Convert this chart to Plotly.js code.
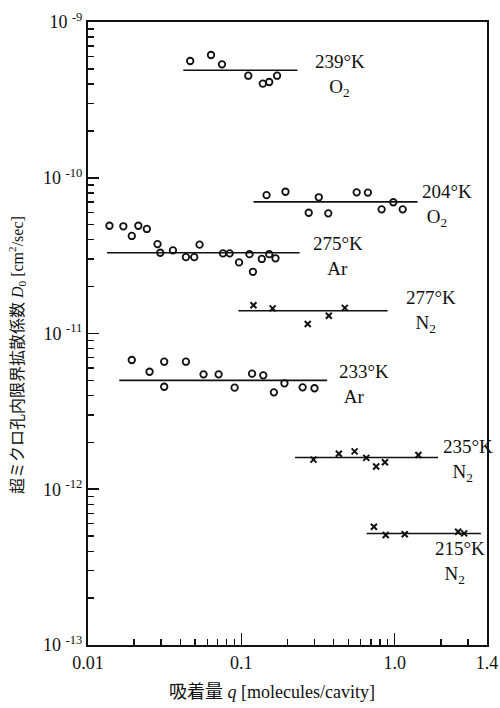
<!DOCTYPE html>
<html>
<head>
<meta charset="utf-8">
<script src="https://cdn.plot.ly/plotly-3.0.1.min.js"></script>
<style>
  html, body { margin: 0; padding: 0; background: #fff; }
  #chart { width: 500px; height: 708px; }
</style>
</head>
<body>
<div id="chart"></div>
<script>
// Adsorbed amount q [molecules/cavity] and limiting diffusivity D0 [cm2/sec]

// O2, 239 K
const o2_239_q = [0.0464, 0.0634, 0.0748, 0.111, 0.138, 0.152, 0.171];
const o2_239_D = [5.62e-10, 6.14e-10, 5.35e-10, 4.52e-10, 4.02e-10, 4.12e-10, 4.52e-10];
const o2_239_mean = 4.9e-10;
const o2_239_span = [0.0418, 0.232];

// O2, 204 K
const o2_204_q = [0.146, 0.194, 0.275, 0.320, 0.369, 0.565, 0.669, 0.822, 0.980, 1.128];
const o2_204_D = [7.74e-11, 8.13e-11, 5.96e-11, 7.49e-11, 5.91e-11, 8.06e-11, 8.03e-11, 6.27e-11, 6.96e-11, 6.27e-11];
const o2_204_mean = 7.0e-11;
const o2_204_span = [0.12, 1.41];

// Ar, 275 K
const ar_275_q = [0.0138, 0.0170, 0.0193, 0.0213, 0.0242, 0.0284, 0.0296, 0.0358, 0.0435, 0.0493,
                  0.0534, 0.0759, 0.0839, 0.0966, 0.113, 0.119, 0.136, 0.152, 0.167];
const ar_275_D = [4.92e-11, 4.88e-11, 4.23e-11, 4.92e-11, 4.69e-11, 3.75e-11, 3.30e-11, 3.42e-11, 3.09e-11, 3.09e-11,
                  3.72e-11, 3.27e-11, 3.27e-11, 2.86e-11, 3.23e-11, 2.49e-11, 3.01e-11, 3.23e-11, 3.04e-11];
const ar_275_mean = 3.3e-11;
const ar_275_span = [0.0133, 0.240];

// N2, 277 K
const n2_277_q = [0.120, 0.160, 0.271, 0.372, 0.473];
const n2_277_D = [1.52e-11, 1.45e-11, 1.15e-11, 1.30e-11, 1.46e-11];
const n2_277_mean = 1.4e-11;
const n2_277_span = [0.0956, 0.90];

// Ar, 233 K
const ar_233_q = [0.0193, 0.0252, 0.0314, 0.0314, 0.0435, 0.0567, 0.0711, 0.0904, 0.1175, 0.139,
                  0.163, 0.191, 0.251, 0.300];
const ar_233_D = [6.76e-12, 5.68e-12, 6.59e-12, 4.55e-12, 6.59e-12, 5.47e-12, 5.47e-12, 4.49e-12, 5.52e-12, 5.39e-12,
                  4.19e-12, 4.79e-12, 4.51e-12, 4.45e-12];
const ar_233_mean = 5.0e-12;
const ar_233_span = [0.0160, 0.363];

// N2, 235 K
const n2_235_q = [0.2955, 0.4325, 0.548, 0.653, 0.757, 0.864, 1.428];
const n2_235_D = [1.55e-12, 1.69e-12, 1.75e-12, 1.59e-12, 1.40e-12, 1.49e-12, 1.66e-12];
const n2_235_mean = 1.6e-12;
const n2_235_span = [0.224, 1.92];

// N2, 215 K
const n2_215_q = [0.732, 0.874, 1.163, 2.593, 2.838];
const n2_215_D = [5.75e-13, 5.09e-13, 5.14e-13, 5.34e-13, 5.21e-13];
const n2_215_mean = 5.2e-13;
const n2_215_span = [0.656, 3.65];

// Axis ticks
const xTickVals = [0.01, 0.1, 1, 4];
const xTickText = ["0.01", "0.1", "1.0", "1.4"];
const yTickVals = [1e-13, 1e-12, 1e-11, 1e-10, 1e-9];
const yTickText = ["10 <sup>-13</sup>", "10 <sup>-12</sup>", "10 <sup>-11</sup>", "10 <sup>-10</sup>", "10 <sup>-9</sup>"];

const INK = "#111";
const SERIF = "'Liberation Serif', 'Noto Sans CJK JP', serif";

const groups = [
  { q: o2_239_q, D: o2_239_D, mean: o2_239_mean, span: o2_239_span, mark: "o" },
  { q: o2_204_q, D: o2_204_D, mean: o2_204_mean, span: o2_204_span, mark: "o" },
  { q: ar_275_q, D: ar_275_D, mean: ar_275_mean, span: ar_275_span, mark: "o" },
  { q: n2_277_q, D: n2_277_D, mean: n2_277_mean, span: n2_277_span, mark: "x" },
  { q: ar_233_q, D: ar_233_D, mean: ar_233_mean, span: ar_233_span, mark: "o" },
  { q: n2_235_q, D: n2_235_D, mean: n2_235_mean, span: n2_235_span, mark: "x" },
  { q: n2_215_q, D: n2_215_D, mean: n2_215_mean, span: n2_215_span, mark: "x" }
];

const traces = [];
groups.forEach(g => {
  // horizontal mean line
  traces.push({
    x: g.span, y: [g.mean, g.mean],
    mode: "lines", line: { color: INK, width: 1.6 },
    hoverinfo: "skip", showlegend: false
  });
  // measured points
  traces.push({
    x: g.q, y: g.D, mode: "markers", showlegend: false,
    marker: g.mark === "o"
      ? { symbol: "circle-open", size: 6.5, color: INK, line: { color: INK, width: 1.8 } }
      : { symbol: "x-thin-open", size: 6, color: INK, line: { color: INK, width: 2 } }
  });
});

// plot-area geometry (pixels) used to place the text labels
const L = 88, R = 487, T = 22, B = 645;
const px = x => (x - L) / (R - L);
const py = y => (B - y) / (B - T);

// two-line curve label: temperature, then the gas indented by `indent` no-break spaces
function label(temp, gas, x, y, indent) {
  return {
    text: temp + "<br>" + "\u00a0".repeat(indent) + gas,
    xref: "paper", yref: "paper", x: px(x), y: py(y),
    xanchor: "left", yanchor: "middle", align: "left", showarrow: false,
    font: { family: SERIF, size: 19, color: INK }
  };
}

const annotations = [
  label("239°K", "O<sub>2</sub>", 313, 75, 3),
  label("204°K", "O<sub>2</sub>", 420, 205, 1),
  label("275°K", "Ar", 311, 256, 3),
  label("277°K", "N<sub>2</sub>", 404, 311, 2),
  label("233°K", "Ar", 337, 384, 1),
  label("235°K", "N<sub>2</sub>", 441, 460, 2),
  label("215°K", "N<sub>2</sub>", 433, 562, 2),
  {
    text: "超ミクロ孔内限界拡散係数 <i>D</i><sub>0</sub> [cm<sup>2</sup>/sec]",
    xref: "paper", yref: "paper", x: px(17), y: py(355),
    xanchor: "center", yanchor: "middle", textangle: -90, showarrow: false,
    font: { family: SERIF, size: 16, color: INK }
  },
  {
    text: "吸着量 <i>q</i> [molecules/cavity]",
    xref: "paper", yref: "paper", x: px(272), y: py(692),
    xanchor: "center", yanchor: "middle", showarrow: false,
    font: { family: SERIF, size: 18, color: INK }
  }
];

function minorVals(decades, extra) {
  const v = [];
  decades.forEach(d => { for (let k = 2; k <= 9; k++) v.push(k * d); });
  return v.concat(extra || []);
}

const layout = {
  width: 500, height: 708,
  margin: { l: L, r: 500 - R, t: T, b: 708 - B },
  paper_bgcolor: "#fff", plot_bgcolor: "#fff",
  font: { family: SERIF, size: 17, color: INK },
  showlegend: false,
  xaxis: {
    type: "log", range: [-2, Math.log10(4)],
    showline: true, linecolor: INK, linewidth: 2, mirror: true,
    showgrid: false, zeroline: false,
    ticks: "inside", ticklen: 12, tickwidth: 1.6, tickcolor: INK,
    tickmode: "array", tickvals: xTickVals, ticktext: xTickText,
    tickfont: { family: SERIF, size: 18, color: INK },
    minor: { ticks: "inside", ticklen: 6, tickwidth: 1.4, tickcolor: INK,
             tickmode: "array", tickvals: minorVals([0.01, 0.1], [2, 3]), showgrid: false }
  },
  yaxis: {
    type: "log", range: [-13, -9],
    showline: true, linecolor: INK, linewidth: 2, mirror: true,
    showgrid: false, zeroline: false,
    ticks: "inside", ticklen: 11, tickwidth: 1.8, tickcolor: INK,
    tickmode: "array", tickvals: yTickVals, ticktext: yTickText,
    tickfont: { family: SERIF, size: 18, color: INK },
    minor: { ticks: "inside", ticklen: 6, tickwidth: 1.4, tickcolor: INK,
             tickmode: "array", tickvals: minorVals([1e-13, 1e-12, 1e-11, 1e-10]), showgrid: false }
  },
  annotations: annotations
};

Plotly.newPlot("chart", traces, layout, { displayModeBar: false, staticPlot: true });
</script>
</body>
</html>
